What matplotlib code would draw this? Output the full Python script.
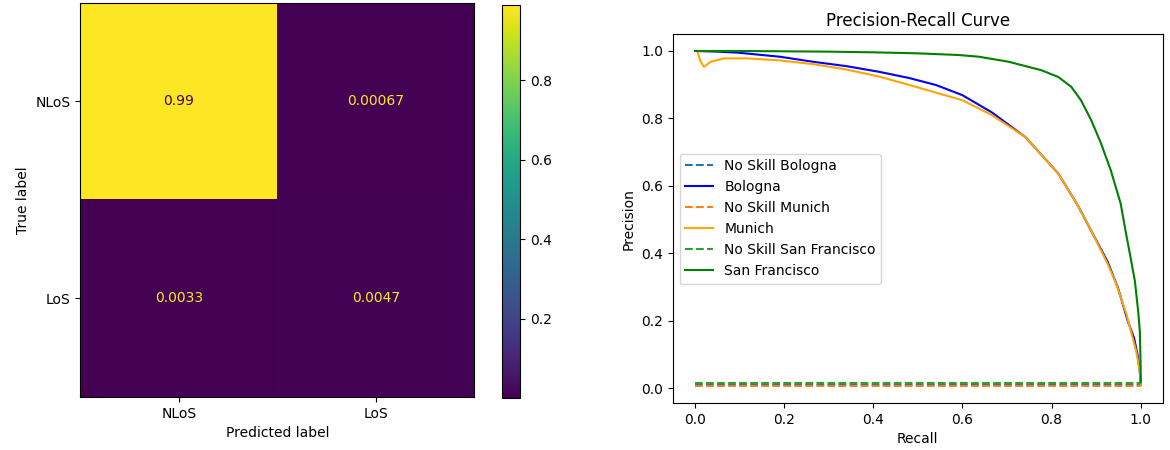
import numpy as np
import matplotlib
matplotlib.use('Agg')
import matplotlib.pyplot as plt

labels = ['NLoS', 'LoS']
cm = np.array([[0.99, 0.00067],
               [0.0033, 0.0047]])
cm_text = [['0.99', '0.00067'], ['0.0033', '0.0047']]

# precision-recall points
bologna_recall = [0.0, 0.05, 0.096, 0.19, 0.265, 0.34, 0.414, 0.48, 0.541, 0.6, 0.666,
                  0.742, 0.815, 0.86, 0.889, 0.926, 0.949, 0.971, 0.985, 0.993, 0.998, 1.0]
bologna_prec = [1.0, 0.998, 0.995, 0.983, 0.968, 0.955, 0.938, 0.92, 0.899, 0.869, 0.818,
                0.744, 0.637, 0.54, 0.467, 0.375, 0.298, 0.2, 0.15, 0.10, 0.05, 0.01]
munich_recall = [0.0, 0.005, 0.012, 0.02, 0.035, 0.065, 0.118, 0.19, 0.265, 0.34, 0.414,
                 0.5, 0.6, 0.666, 0.742, 0.815, 0.86, 0.889, 0.926, 0.945, 0.968, 0.99, 0.998, 1.0]
munich_prec = [1.0, 1.0, 0.97, 0.953, 0.968, 0.978, 0.978, 0.972, 0.961, 0.945, 0.924,
               0.892, 0.854, 0.81, 0.744, 0.637, 0.54, 0.467, 0.369, 0.31, 0.22, 0.11, 0.05, 0.01]
sf_recall = [0.0, 0.1, 0.2, 0.3, 0.4, 0.5, 0.592, 0.637, 0.704, 0.777, 0.815, 0.844, 0.866,
             0.889, 0.911, 0.933, 0.955, 0.967, 0.977, 0.987, 0.995, 0.998, 1.0, 1.0]
sf_prec = [1.0, 1.0, 0.999, 0.998, 0.996, 0.993, 0.988, 0.983, 0.968, 0.943, 0.923, 0.894,
           0.854, 0.795, 0.726, 0.646, 0.548, 0.46, 0.39, 0.318, 0.22, 0.17, 0.06, 0.02]
no_skill = {'Bologna': 0.01, 'Munich': 0.006, 'San Francisco': 0.016}

fig = plt.figure(figsize=(11.7, 4.5), dpi=100)
ax1 = fig.add_axes([0.068, 0.118, 0.338, 0.876])
cax = fig.add_axes([0.429, 0.116, 0.0154, 0.873])
ax2 = fig.add_axes([0.575, 0.104, 0.419, 0.82])

im = ax1.imshow(cm, cmap='viridis', interpolation='nearest')
cmap = plt.get_cmap('viridis')
thresh = (cm.max() + cm.min()) / 2.0
for i in range(2):
    for j in range(2):
        c = cmap(0.0) if cm[i, j] > thresh else cmap(1.0)
        ax1.text(j, i, cm_text[i][j], ha='center', va='center', color=c)
ax1.set_xticks([0, 1])
ax1.set_xticklabels(labels)
ax1.set_yticks([0, 1])
ax1.set_yticklabels(labels)
ax1.set_xlabel('Predicted label')
ax1.set_ylabel('True label')
fig.colorbar(im, cax=cax)

ax2.plot([0, 1], [no_skill['Bologna']] * 2, linestyle='--', label='No Skill Bologna')
ax2.plot(bologna_recall, bologna_prec, color='blue', label='Bologna')
ax2.plot([0, 1], [no_skill['Munich']] * 2, linestyle='--', label='No Skill Munich')
ax2.plot(munich_recall, munich_prec, color='orange', label='Munich')
ax2.plot([0, 1], [no_skill['San Francisco']] * 2, linestyle='--', label='No Skill San Francisco')
ax2.plot(sf_recall, sf_prec, color='green', label='San Francisco')
ax2.set_xlabel('Recall')
ax2.set_ylabel('Precision')
ax2.set_title('Precision-Recall Curve')
ax2.legend(loc='center left')

fig.savefig('out.png')
